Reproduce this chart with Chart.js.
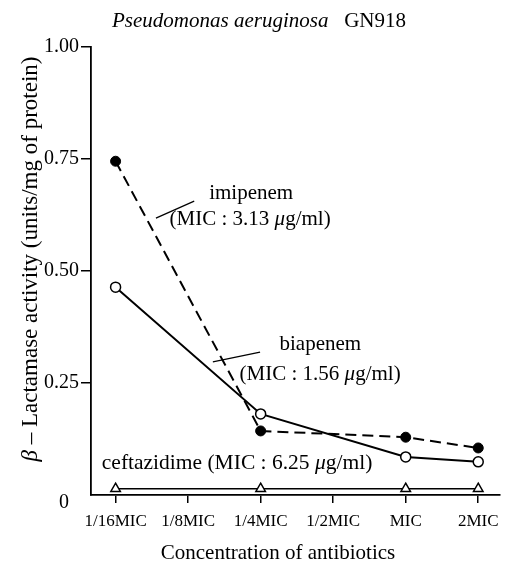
<!DOCTYPE html>
<html>
<head>
<meta charset="UTF-8">
<title>Pseudomonas aeruginosa GN918</title>
<style>
  html, body { margin:0; padding:0; background:#fff; }
  #wrap { width:507px; height:563px; }
</style>
</head>
<body>
<div id="wrap"><canvas id="chart" width="507" height="563"></canvas></div>
<script src="https://cdn.jsdelivr.net/npm/chart.js"></script>
<script>
const categories = ["1/16MIC", "1/8MIC", "1/4MIC", "1/2MIC", "MIC", "2MIC"];
const yTicks = [0, 0.25, 0.50, 0.75, 1.00];
// measured at 1/16MIC, 1/4MIC, MIC and 2MIC
const measuredAt = [0, 2, 4, 5];
const imipenem = [0.745, 0.143, 0.129, 0.105];
const biapenem = [0.464, 0.181, 0.085, 0.074];
const ceftazidime = [0.014, 0.014, 0.014, 0.014];

const SERIF = '"Liberation Serif", "Times New Roman", serif';

function points(vals) {
  return measuredAt.map((x, i) => ({ x: x, y: vals[i] }));
}

// labels and leader lines, placed in data units
const notes = [
  { x: 1.29, y: 0.672, size: 21, parts: [["imipenem", ""]] },
  { x: 0.745, y: 0.616, size: 21, parts: [["(MIC : 3.13 ", ""], ["\u03bc", "italic "], ["g/ml)", ""]] },
  { x: 2.26, y: 0.337, size: 21, parts: [["biapenem", ""]] },
  { x: 1.71, y: 0.270, size: 21, parts: [["(MIC : 1.56 ", ""], ["\u03bc", "italic "], ["g/ml)", ""]] },
  { x: -0.19, y: 0.071, size: 21.5, parts: [["ceftazidime (MIC : 6.25 ", ""], ["\u03bc", "italic "], ["g/ml)", ""]] }
];
const leaders = [
  [0.556, 0.618, 1.084, 0.656],
  [1.341, 0.297, 1.992, 0.319]
];

function drawParts(ctx, parts, x, y, size) {
  let cx = x;
  parts.forEach(p => {
    ctx.font = p[1] + size + 'px ' + SERIF;
    ctx.fillText(p[0], cx, y);
    cx += ctx.measureText(p[0]).width;
  });
  return cx;
}
function partsWidth(ctx, parts, size) {
  let w = 0;
  parts.forEach(p => {
    ctx.font = p[1] + size + 'px ' + SERIF;
    w += ctx.measureText(p[0]).width;
  });
  return w;
}

const textPlugin = {
  id: 'texts',
  afterDraw(chart) {
    const ctx = chart.ctx;
    const xs = chart.scales.x, ys = chart.scales.y;
    ctx.save();
    ctx.fillStyle = '#000';
    ctx.textBaseline = 'middle';
    ctx.textAlign = 'left';

    notes.forEach(n => drawParts(ctx, n.parts, xs.getPixelForValue(n.x), ys.getPixelForValue(n.y), n.size));

    ctx.strokeStyle = '#000';
    ctx.lineWidth = 1.2;
    leaders.forEach(l => {
      ctx.beginPath();
      ctx.moveTo(xs.getPixelForValue(l[0]), ys.getPixelForValue(l[1]));
      ctx.lineTo(xs.getPixelForValue(l[2]), ys.getPixelForValue(l[3]));
      ctx.stroke();
    });

    // title
    const title = [["Pseudomonas aeruginosa", "italic "], ["   GN918", ""]];
    let w = partsWidth(ctx, title, 21);
    drawParts(ctx, title, 259 - w / 2, 21, 21);

    // x axis title
    const xt = [["Concentration of antibiotics", ""]];
    w = partsWidth(ctx, xt, 21);
    drawParts(ctx, xt, 278 - w / 2, 553, 21);

    // y axis title
    const yt = [["\u03b2", "italic "], [" \u2013 Lactamase activity (units/mg of protein)", ""]];
    w = partsWidth(ctx, yt, 23);
    ctx.textBaseline = 'alphabetic';
    ctx.translate(37, 259);
    ctx.rotate(-Math.PI / 2);
    drawParts(ctx, yt, -w / 2, 0, 23);
    ctx.restore();
  }
};

new Chart(document.getElementById('chart'), {
  type: 'line',
  data: {
    datasets: [
      {
        label: 'imipenem',
        data: points(imipenem),
        borderColor: '#000',
        borderWidth: 2,
        borderDash: [11, 6],
        pointStyle: 'circle',
        pointRadius: 5,
        pointBackgroundColor: '#000',
        pointBorderColor: '#000',
        pointBorderWidth: 1
      },
      {
        label: 'biapenem',
        data: points(biapenem),
        borderColor: '#000',
        borderWidth: 2,
        pointStyle: 'circle',
        pointRadius: 5,
        pointBackgroundColor: '#fff',
        pointBorderColor: '#000',
        pointBorderWidth: 1.5
      },
      {
        label: 'ceftazidime',
        data: points(ceftazidime),
        borderColor: '#000',
        borderWidth: 1.5,
        pointStyle: 'triangle',
        pointRadius: 5.5,
        pointBackgroundColor: '#fff',
        pointBorderColor: '#000',
        pointBorderWidth: 1.5
      }
    ]
  },
  options: {
    responsive: false,
    animation: false,
    clip: false,
    layout: { padding: { top: 47, right: 0, bottom: 0, left: 0 } },
    plugins: { legend: { display: false }, tooltip: { enabled: false } },
    elements: { line: { tension: 0 } },
    scales: {
      x: {
        type: 'linear',
        min: -0.339,
        max: 5.3,
        afterBuildTicks: s => { s.ticks = categories.map((c, i) => ({ value: i })); },
        afterFit: s => { s.height = 68; },
        border: { display: true, color: '#000', width: 1.8 },
        grid: { drawOnChartArea: false, drawTicks: true, tickLength: 8, color: '#000', lineWidth: 1.5 },
        ticks: {
          autoSkip: false,
          maxRotation: 0,
          padding: 8,
          color: '#000',
          font: { family: SERIF, size: 17 },
          callback: v => categories[v]
        }
      },
      y: {
        min: 0,
        max: 1,
        afterBuildTicks: s => { s.ticks = yTicks.map(v => ({ value: v })); },
        afterFit: s => { s.width = 91; },
        border: { display: true, color: '#000', width: 1.8 },
        grid: {
          drawOnChartArea: false, drawTicks: true, tickLength: 10, lineWidth: 1.5,
          color: c => (c.tick && c.tick.value === 0) ? 'rgba(0,0,0,0)' : '#000'
        },
        ticks: {
          padding: 2,
          color: '#000',
          font: { family: SERIF, size: 20, lineHeight: 0.8 },
          // the zero sits a little below the axis, as in the original
          callback: v => v === 0 ? ['', '0  '] : v.toFixed(2)
        }
      }
    }
  },
  plugins: [textPlugin]
});
</script>
</body>
</html>
